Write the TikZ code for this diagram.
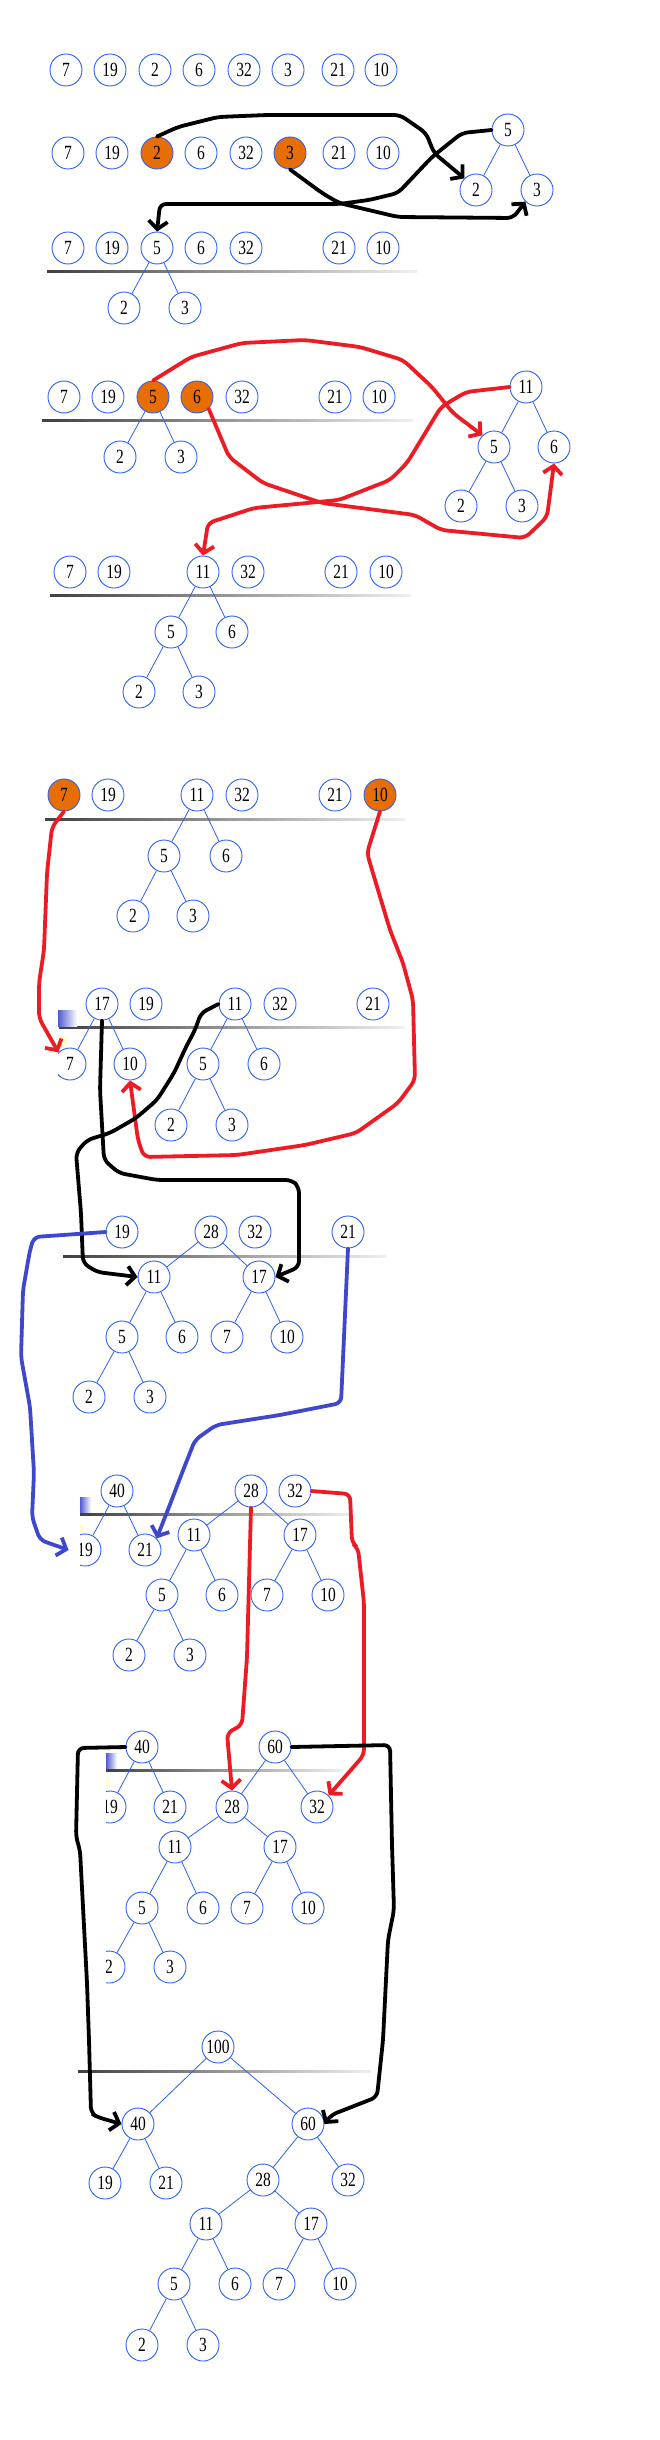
\documentclass[tikz,border=0pt]{standalone}
\usepackage{graphicx}
\usepackage{fontspec}
\setmainfont{Liberation Serif}
\usetikzlibrary{arrows.meta}

\definecolor{heapblue}{RGB}{45,95,245}
\definecolor{heaporange}{RGB}{230,110,5}
\definecolor{paintred}{RGB}{237,28,36}
\definecolor{paintblue}{RGB}{63,72,204}

\begin{document}
\begin{tikzpicture}[x=1pt,y=-1pt,
  key/.style={circle, draw=heapblue, line width=0.9pt, minimum size=32pt, inner sep=0pt,
    font=\fontsize{15.5}{18}\selectfont,
    execute at begin node={\setbox0=\hbox\bgroup},
    execute at end node={\egroup\scalebox{1}[1.3]{\box0}}},
  hot/.style={key, fill=heaporange},
  edge/.style={heapblue, line width=0.8pt},
  stroke/.style={line width=3.8pt, rounded corners=6pt, line cap=round,
    -{Straight Barb[length=8pt,width=19pt]}},
  blk/.style={stroke, black},
  redstroke/.style={stroke, paintred},
  bluestroke/.style={stroke, paintblue}]

\useasboundingbox (0,0) rectangle (660,2440);

% separators
\shade[left color=black!75, right color=black!6] (47,271) rectangle (417,273);
\shade[left color=black!75, right color=black!6] (42,419) rectangle (413,421);
\shade[left color=black!75, right color=black!6] (50,594) rectangle (411,596);
\shade[left color=black!75, right color=black!6] (45,818) rectangle (405,820);
\shade[left color=black!75, right color=black!6] (59,1026) rectangle (405,1028);
\shade[left color=black!75, right color=black!6] (63,1255) rectangle (386,1257);
\shade[left color=black!75, right color=black!6] (80,1513) rectangle (352,1515);
\shade[left color=black!75, right color=black!6] (106,1769) rectangle (343,1771);
\shade[left color=black!75, right color=black!6] (78,2070) rectangle (371,2072);

% row 1
\node[key] (a7) at (66,70) {7};
\node[key] (a19) at (110,70) {19};
\node[key] (a2) at (155,70) {2};
\node[key] (a6) at (199,70) {6};
\node[key] (a32) at (244,70) {32};
\node[key] (a3) at (288,70) {3};
\node[key] (a21) at (338,70) {21};
\node[key] (a10) at (381,70) {10};

% row 2
\node[key] (b7) at (68,153) {7};
\node[key] (b19) at (112,153) {19};
\node[hot] (b2) at (157,153) {2};
\node[key] (b6) at (201,153) {6};
\node[key] (b32) at (246,153) {32};
\node[hot] (b3) at (290,153) {3};
\node[key] (b21) at (339,153) {21};
\node[key] (b10) at (383,153) {10};
\node[key] (bt5) at (508,130) {5};
\node[key] (bt2) at (476,190) {2};
\node[key] (bt3) at (537,190) {3};
\draw[edge] (bt5) -- (bt2) (bt5) -- (bt3);

% row 3
\node[key] (c7) at (68,248) {7};
\node[key] (c19) at (112,248) {19};
\node[key] (c5) at (157,248) {5};
\node[key] (c6) at (201,248) {6};
\node[key] (c32) at (246,248) {32};
\node[key] (c21) at (339,248) {21};
\node[key] (c10) at (383,248) {10};
\node[key] (c2) at (124,308) {2};
\node[key] (c3) at (185,308) {3};
\draw[edge] (c5) -- (c2) (c5) -- (c3);

% row 4
\node[key] (d7) at (64,397) {7};
\node[key] (d19) at (108,397) {19};
\node[hot] (d5) at (153,397) {5};
\node[hot] (d6) at (197,397) {6};
\node[key] (d32) at (242,397) {32};
\node[key] (d21) at (335,397) {21};
\node[key] (d10) at (379,397) {10};
\node[key] (d2) at (120,457) {2};
\node[key] (d3) at (181,457) {3};
\draw[edge] (d5) -- (d2) (d5) -- (d3);
\node[key] (dt11) at (526,387) {11};
\node[key] (dt5) at (494,447) {5};
\node[key] (dt6) at (554,447) {6};
\node[key] (dt2) at (461,506) {2};
\node[key] (dt3) at (522,506) {3};
\draw[edge] (dt11) -- (dt5) (dt11) -- (dt6) (dt5) -- (dt2) (dt5) -- (dt3);

% row 5
\node[key] (e7) at (70,572) {7};
\node[key] (e19) at (114,572) {19};
\node[key] (e11) at (203,572) {11};
\node[key] (e32) at (248,572) {32};
\node[key] (e21) at (341,572) {21};
\node[key] (e10) at (386,572) {10};
\node[key] (e5) at (171,632) {5};
\node[key] (e6) at (232,632) {6};
\node[key] (e2) at (139,692) {2};
\node[key] (e3) at (199,692) {3};
\draw[edge] (e11) -- (e5) (e11) -- (e6) (e5) -- (e2) (e5) -- (e3);

% row 6
\node[hot] (f7) at (64,795) {7};
\node[key] (f19) at (108,795) {19};
\node[key] (f11) at (197,795) {11};
\node[key] (f32) at (242,795) {32};
\node[key] (f21) at (335,795) {21};
\node[hot] (f10) at (380,795) {10};
\node[key] (f5) at (164,856) {5};
\node[key] (f6) at (226,856) {6};
\node[key] (f2) at (133,916) {2};
\node[key] (f3) at (193,916) {3};
\draw[edge] (f11) -- (f5) (f11) -- (f6) (f5) -- (f2) (f5) -- (f3);

% row 7
\begin{scope}
\clip (58,980) rectangle (660,1180);
\shade[left color=paintblue!90, right color=white] (58,1010) rectangle (77,1026);
\fill[yellow!18] (58,1036) rectangle (67,1048);
\node[key] (g17) at (102,1004) {17};
\node[key] (g19) at (146,1004) {19};
\node[key] (g11) at (235,1004) {11};
\node[key] (g32) at (280,1004) {32};
\node[key] (g21) at (373,1004) {21};
\node[key] (g7) at (70,1064) {7};
\node[key] (g10) at (130,1064) {10};
\node[key] (g5) at (203,1064) {5};
\node[key] (g6) at (264,1064) {6};
\node[key] (g2) at (171,1125) {2};
\node[key] (g3) at (232,1125) {3};
\draw[edge] (g17) -- (g7) (g17) -- (g10) (g11) -- (g5) (g11) -- (g6) (g5) -- (g2) (g5) -- (g3);
\end{scope}

% row 8
\node[key] (h19) at (122,1232) {19};
\node[key] (h28) at (211,1232) {28};
\node[key] (h32) at (255,1232) {32};
\node[key] (h21) at (348,1232) {21};
\node[key] (h11) at (154,1277) {11};
\node[key] (h17) at (259,1277) {17};
\node[key] (h5) at (122,1337) {5};
\node[key] (h6) at (182,1337) {6};
\node[key] (h7) at (227,1337) {7};
\node[key] (h10) at (287,1337) {10};
\node[key] (h2) at (89,1397) {2};
\node[key] (h3) at (150,1397) {3};
\draw[edge] (h28) -- (h11) (h28) -- (h17) (h11) -- (h5) (h11) -- (h6)
  (h17) -- (h7) (h17) -- (h10) (h5) -- (h2) (h5) -- (h3);

% row 9
\begin{scope}
\clip (80,1470) rectangle (660,1680);
\shade[left color=paintblue!90, right color=white] (80,1497) rectangle (91,1512);
\fill[yellow!18] (80,1524) rectangle (84,1532);
\node[key] (i40) at (117,1491) {40};
\node[key] (i28) at (251,1491) {28};
\node[key] (i32) at (295,1491) {32};
\node[key] (i19) at (85,1550) {19};
\node[key] (i21) at (145,1550) {21};
\node[key] (i11) at (194,1535) {11};
\node[key] (i17) at (300,1535) {17};
\node[key] (i5) at (162,1595) {5};
\node[key] (i6) at (222,1595) {6};
\node[key] (i7) at (267,1595) {7};
\node[key] (i10) at (328,1595) {10};
\node[key] (i2) at (129,1655) {2};
\node[key] (i3) at (190,1655) {3};
\draw[edge] (i40) -- (i19) (i40) -- (i21) (i28) -- (i11) (i28) -- (i17) (i11) -- (i5) (i11) -- (i6)
  (i17) -- (i7) (i17) -- (i10) (i5) -- (i2) (i5) -- (i3);
\end{scope}

% row 10
\begin{scope}
\clip (106,1725) rectangle (660,1990);
\shade[left color=paintblue!90, right color=white] (106,1753) rectangle (117,1768);
\fill[yellow!18] (106,1778) rectangle (110,1787);
\node[key] (j40) at (142,1747) {40};
\node[key] (j60) at (275,1747) {60};
\node[key] (j19) at (110,1807) {19};
\node[key] (j21) at (170,1807) {21};
\node[key] (j28) at (232,1807) {28};
\node[key] (j32) at (317,1807) {32};
\node[key] (j11) at (175,1847) {11};
\node[key] (j17) at (280,1847) {17};
\node[key] (j5) at (142,1908) {5};
\node[key] (j6) at (203,1908) {6};
\node[key] (j7) at (247,1908) {7};
\node[key] (j10) at (308,1908) {10};
\node[key] (j2) at (109,1967) {2};
\node[key] (j3) at (170,1967) {3};
\draw[edge] (j40) -- (j19) (j40) -- (j21) (j60) -- (j28) (j60) -- (j32) (j28) -- (j11) (j28) -- (j17)
  (j11) -- (j5) (j11) -- (j6) (j17) -- (j7) (j17) -- (j10) (j5) -- (j2) (j5) -- (j3);
\end{scope}

% row 11
\node[key] (k100) at (218,2047) {100};
\node[key] (k40) at (138,2124) {40};
\node[key] (k60) at (308,2124) {60};
\node[key] (k19) at (105,2183) {19};
\node[key] (k21) at (166,2183) {21};
\node[key] (k28) at (263,2180) {28};
\node[key] (k32) at (348,2180) {32};
\node[key] (k11) at (206,2224) {11};
\node[key] (k17) at (311,2224) {17};
\node[key] (k5) at (174,2284) {5};
\node[key] (k6) at (235,2284) {6};
\node[key] (k7) at (279,2284) {7};
\node[key] (k10) at (340,2284) {10};
\node[key] (k2) at (142,2345) {2};
\node[key] (k3) at (203,2345) {3};
\draw[edge] (k100) -- (k40) (k100) -- (k60) (k40) -- (k19) (k40) -- (k21) (k60) -- (k28) (k60) -- (k32)
  (k28) -- (k11) (k28) -- (k17) (k11) -- (k5) (k11) -- (k6) (k17) -- (k7) (k17) -- (k10)
  (k5) -- (k2) (k5) -- (k3);

% moves
\draw[blk] (b2.north) -- (178,127) -- (218,117) -- (267,115) -- (400,115) -- (426,133) -- (434,153) -- (bt2.north west);
\draw[blk] (b3.south) -- (322,193) -- (339,203) -- (398,217) -- (513,218) -- (bt3.south west);
\draw[blk] (bt5.west) -- (462,133) -- (432,157) -- (398,193) -- (369,200) -- (339,204) -- (160,204) -- (c5.north);

\draw[redstroke] (d5.north) -- (191,357) -- (242,343) -- (305,340) -- (360,347) -- (403,360) -- (432,387) -- (453,413) -- (dt5.north west);
\draw[redstroke] (d6.south east) -- (229,457) -- (263,483) -- (322,503) -- (415,515) -- (441,530) -- (525,538) -- (547,517) -- (dt6.south);
\draw[redstroke] (dt11.west) -- (466,392) -- (441,407) -- (407,463) -- (390,480) -- (339,500) -- (254,508) -- (208,523) -- (e11.north);

\draw[redstroke] (f7.south) -- (52,827) -- (47,873) -- (44,950) -- (39,983) -- (39,1018) -- (g7.north west);
\draw[redstroke] (f10.south) -- (367,853) -- (375,880) -- (390,930) -- (403,963) -- (413,1000) -- (415,1080) -- (398,1103)
  -- (356,1133) -- (305,1145) -- (237,1155) -- (144,1157) -- (138,1140) -- (g10.south);

\draw[blk] (g17.south) -- (100,1090) -- (104,1160) -- (119,1173) -- (157,1180) -- (292,1180) -- (299,1187) -- (299,1267) -- (h17.east);
\draw[blk] (g11.west) -- (201,1013) -- (195,1030) -- (186,1047) -- (174,1073) -- (157,1100) -- (136,1118) -- (110,1133)
  -- (87,1140) -- (76,1153) -- (81,1213) -- (83,1263) -- (97,1272) -- (h11.west);

\draw[bluestroke] (h19.west) -- (34,1237) -- (30,1250) -- (23,1290) -- (21,1357) -- (30,1407) -- (34,1473) -- (32,1517) -- (40,1540) -- (i19.west);
\draw[bluestroke] (h21.south) -- (341,1403) -- (280,1415) -- (216,1425) -- (195,1440) -- (182,1473) -- (169,1507) -- (i21.north east);

\draw[redstroke] (i28.south) -- (247,1657) -- (242,1725) -- (227,1733) -- (j28.north);
\draw[redstroke] (i32.east) -- (350,1494) -- (352,1543) -- (358,1548) -- (364,1603) -- (364,1755) -- (j32.north east);

\draw[blk] (j40.west) -- (78,1748) -- (76,1837) -- (80,1850) -- (87,1983) -- (89,2040) -- (91,2113) -- (97,2117) -- (k40.west);
\draw[blk] (j60.east) -- (390,1745) -- (392,1845) -- (394,1910) -- (388,1940) -- (383,2040) -- (377,2097) -- (331,2115) -- (k60.east);

\end{tikzpicture}
\end{document}
